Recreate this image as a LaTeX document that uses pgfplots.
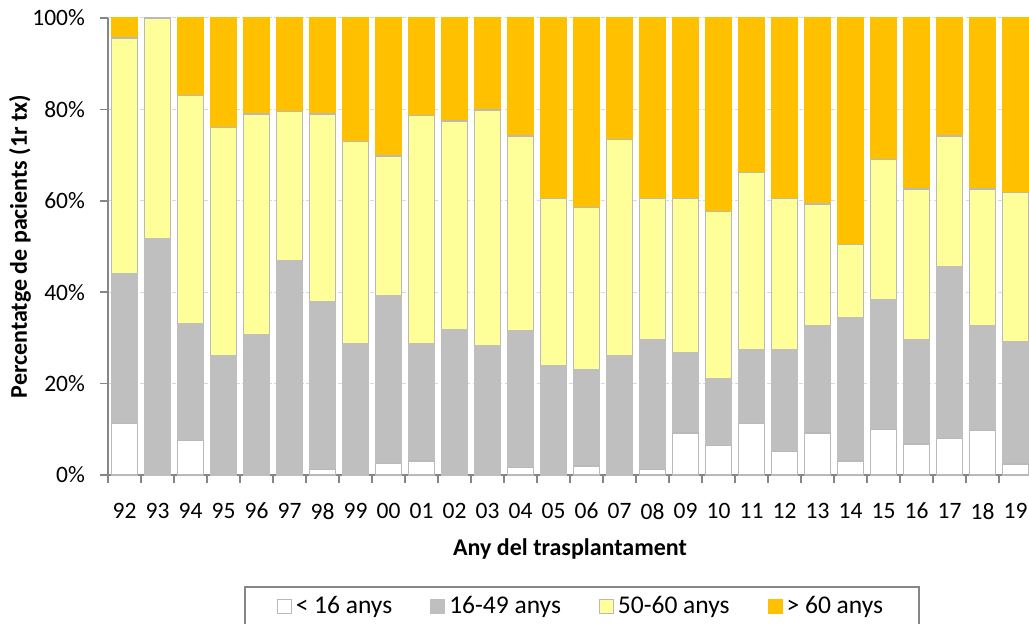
\documentclass[border=0pt]{standalone}
\usepackage{pgfplots}
\usepackage{pgfplotstable}
\pgfplotsset{compat=1.18}
\usepackage{fontspec}
\setmainfont{Carlito}

\definecolor{cgray}{RGB}{191,191,191}
\definecolor{cyellow}{RGB}{255,255,153}
\definecolor{corange}{RGB}{255,192,0}
\definecolor{barline}{RGB}{185,185,185}
\definecolor{axisgray}{RGB}{134,134,134}
\definecolor{gridgray}{RGB}{217,217,217}

% x: posicio de la barra; w: < 16, g: 16-49, y: 50-60, o: > 60 (percentatges)
\pgfplotstableread{
x w g y o
0 11.3 32.7 51.6 4.4
1 0.0 51.6 48.4 0.0
2 7.6 25.5 50.0 16.9
3 0.0 26.2 49.8 24.0
4 0.0 30.7 48.3 21.0
5 0.0 46.9 32.6 20.5
6 1.2 36.7 41.1 21.0
7 0.0 28.7 44.3 27.0
8 2.5 36.7 30.6 30.2
9 3.1 25.6 50.0 21.3
10 0.0 31.9 45.6 22.5
11 0.0 28.2 51.7 20.1
12 1.6 29.9 42.7 25.8
13 0.0 23.9 36.6 39.5
14 2.0 21.0 35.5 41.5
15 0.0 26.2 47.2 26.6
16 1.2 28.3 31.0 39.5
17 9.2 17.5 33.8 39.5
18 6.4 14.6 36.7 42.3
19 11.3 16.2 38.7 33.8
20 5.2 22.3 33.0 39.5
21 9.2 23.5 26.6 40.7
22 3.1 31.3 16.1 49.5
23 10.0 28.4 30.6 31.0
24 6.8 22.7 33.1 37.4
25 8.0 37.6 28.6 25.8
26 9.7 23.0 29.9 37.4
27 2.4 26.7 32.7 38.2
}\datatable

\begin{document}
\begin{tikzpicture}
\begin{axis}[
    scale only axis,
    width=462pt, height=228.5pt,
    xmin=-0.5, xmax=27.5,
    ymin=0, ymax=100,
    ybar stacked,
    bar width=13pt,
    axis lines*=left,
    axis line style={draw=axisgray, line width=0.75pt},
    tick align=outside,
    major tick length=4pt,
    tick style={draw=axisgray, line width=0.75pt},
    xtick={-0.5,0.5,...,27.5},
    xticklabels={92,93,94,95,96,97,98,99,00,01,02,03,04,05,06,07,08,09,10,11,12,13,14,15,16,17,18,19,},
    xticklabel style={xshift=8.25pt, yshift=-6.5pt},
    ytick={0,20,...,100},
    yticklabel={\pgfmathprintnumber{\tick}\%},
    /pgf/number format/assume math mode=true,
    yticklabel style={xshift=-4pt},
    ticklabel style={font=\fontsize{11.75}{14}\selectfont},
    ymajorgrids,
    grid style={draw=gridgray, line width=0.5pt, dash pattern=on 2pt off 1.2pt},
    xlabel={Any del trasplantament},
    ylabel={Percentatge de pacients (1r tx)},
    label style={font=\fontsize{12}{14}\bfseries},
    xlabel style={at={(axis description cs:0.5,-0.162)}, anchor=center},
    ylabel style={at={(axis description cs:-0.0952,0.5)}, anchor=center},
    legend columns=4,
    legend style={
        at={(axis description cs:0.1472,-0.2429)},
        anchor=north west,
        draw=axisgray, line width=0.75pt,
        font=\fontsize{12.75}{15}\selectfont,
        inner xsep=16pt, inner ysep=3pt,
        /tikz/every even column/.append style={column sep=17pt},
    },
    legend image code/.code={
        \draw[#1, line width=0.5pt] (0pt,-3.5pt) rectangle (7pt,3.5pt);
    },
    clip=false,
]
\addplot[fill=white, draw=barline, line width=0.7pt] table[x=x, y=w] {\datatable};
\addlegendentry{< 16 anys}
\addplot[fill=cgray, draw=cgray, line width=0.7pt] table[x=x, y=g] {\datatable};
\addlegendentry{16-49 anys}
\addplot[fill=cyellow, draw=barline, line width=0.7pt] table[x=x, y=y] {\datatable};
\addlegendentry{50-60 anys}
\addplot[fill=corange, draw=corange, line width=0.7pt] table[x=x, y=o] {\datatable};
\addlegendentry{> 60 anys}
\end{axis}
\pgfresetboundingbox
\path[use as bounding box]
    ([xshift=-54pt,yshift=-74.5pt]current axis.south west)
    rectangle ([xshift=460.5pt,yshift=237.5pt]current axis.south west);
\end{tikzpicture}
\end{document}
